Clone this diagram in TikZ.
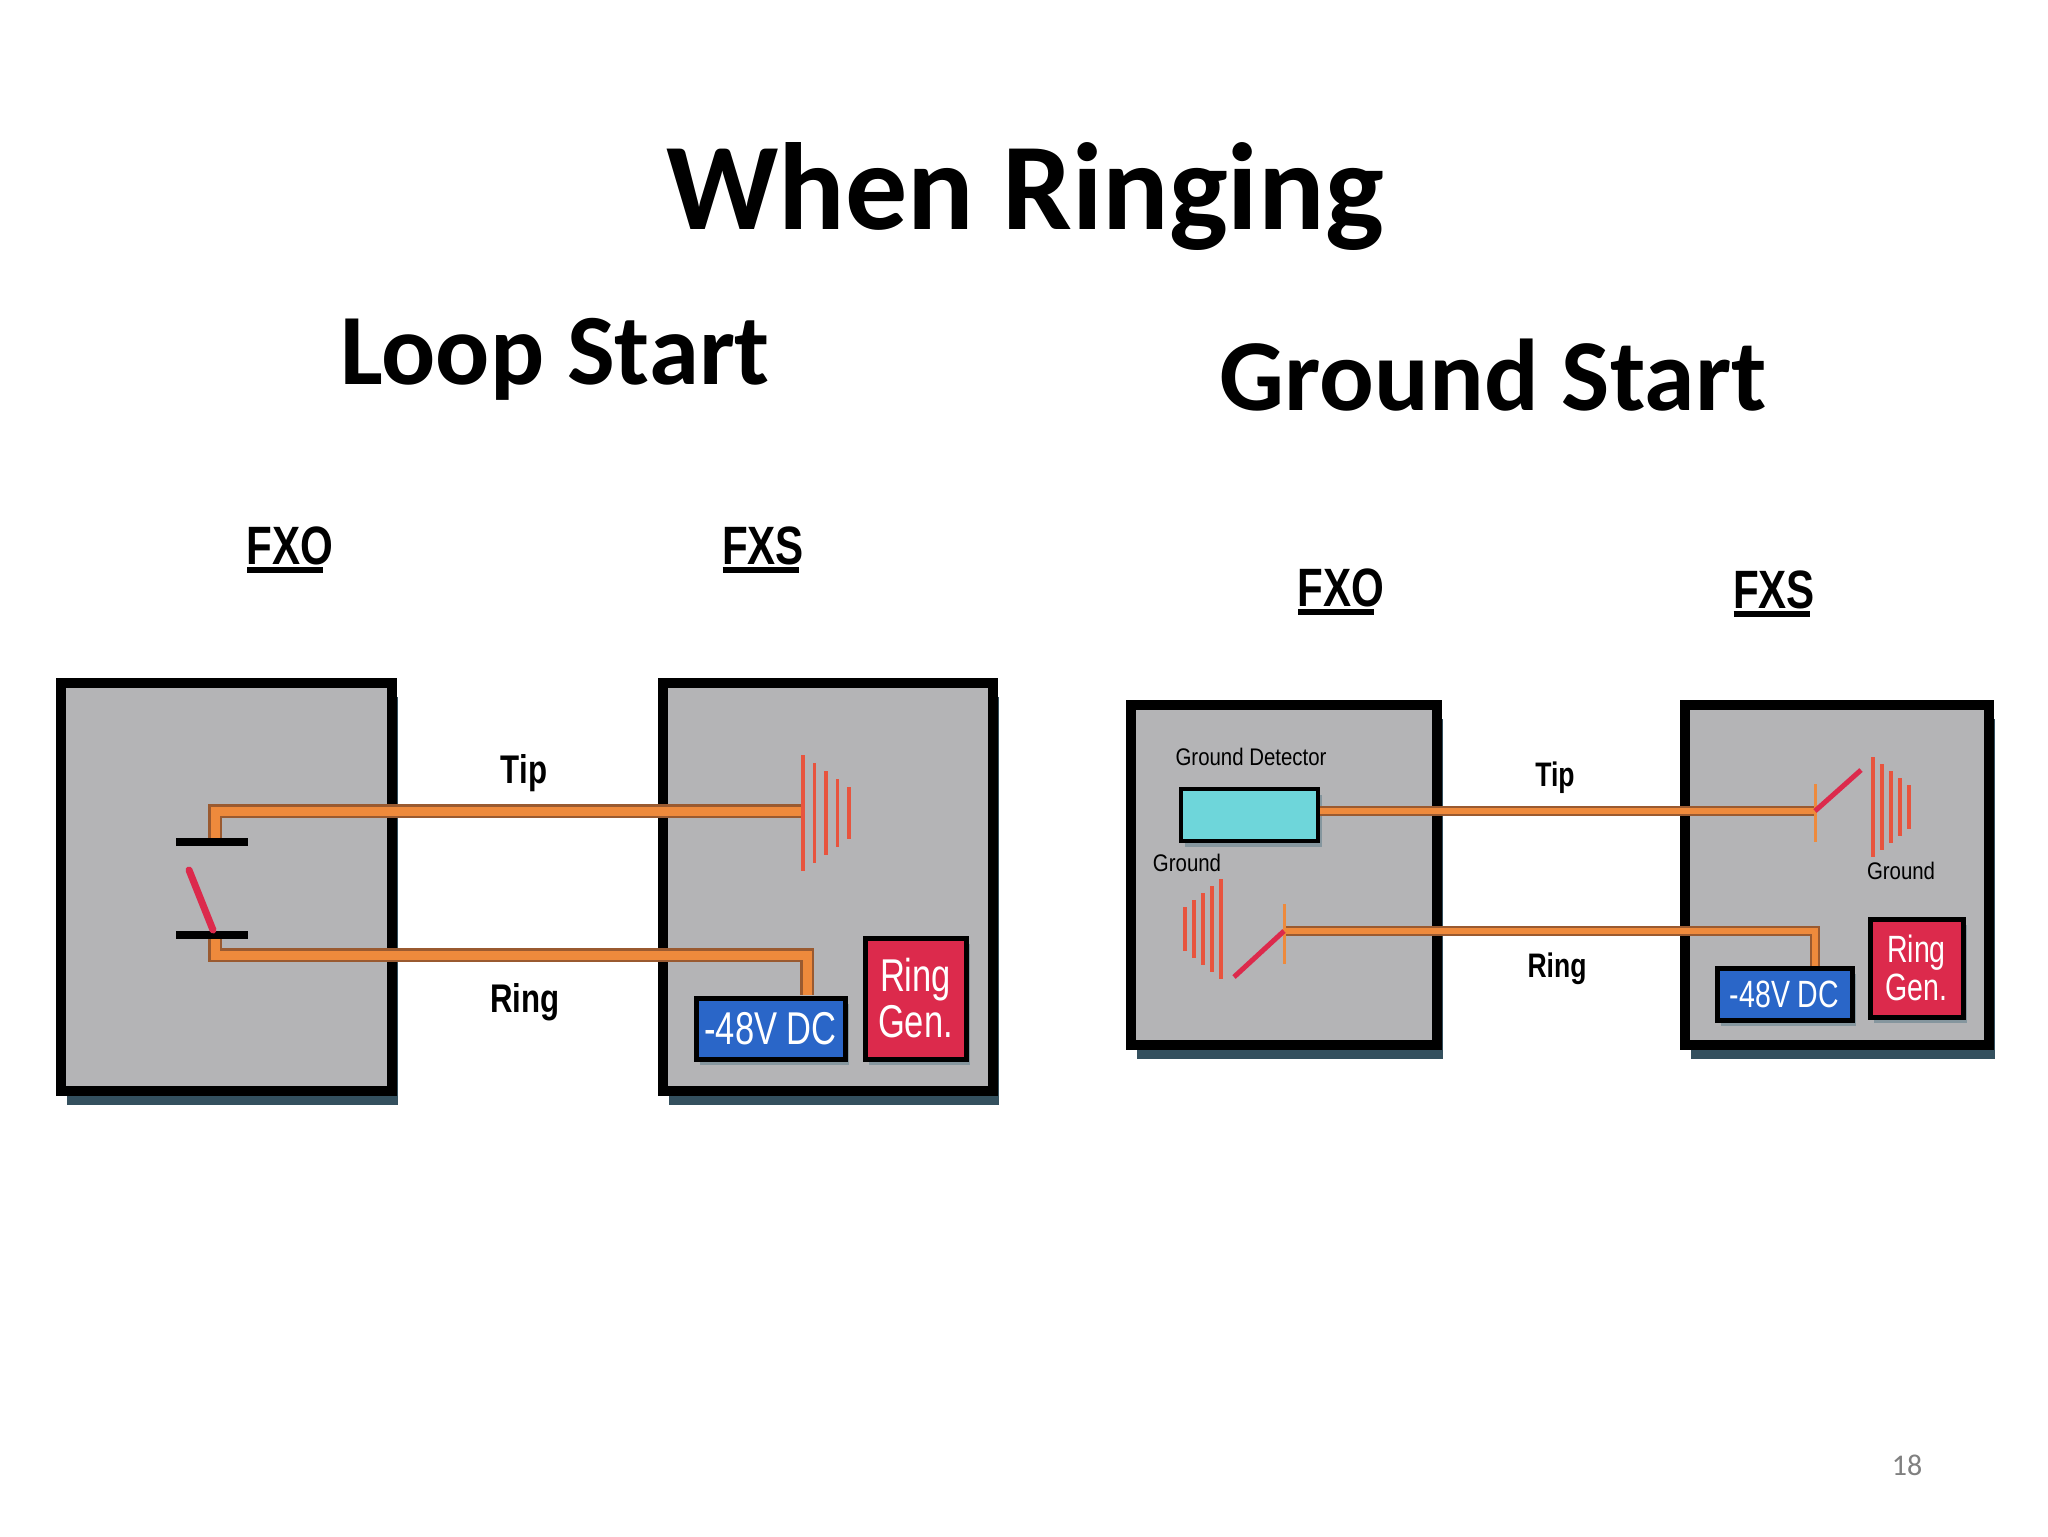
\documentclass[tikz,border=0pt]{standalone}
\usepackage{fontspec}
\setmainfont{Carlito}
\newfontfamily\arialf{Liberation Sans}
\usetikzlibrary{fit,shadows}
\definecolor{boxg}{HTML}{B4B4B6}
\definecolor{shc}{HTML}{34505E}
\definecolor{wirec}{HTML}{EE8A3C}
\definecolor{wired}{HTML}{9A5A30}
\definecolor{bellc}{HTML}{E8543E}
\definecolor{bluec}{HTML}{2A66C8}
\definecolor{redc}{HTML}{DC2A4C}
\definecolor{cyanc}{HTML}{6ED6DA}
\begin{document}
\begin{tikzpicture}[x=0.5pt,y=-0.5pt,
  box/.style={draw=black,line width=5pt,fill=boxg,inner sep=0pt,
    drop shadow={shadow xshift=3pt,shadow yshift=-7pt,fill=shc,opacity=1}},
  sbox/.style={draw=black,line width=2.5pt,inner sep=0pt,
    drop shadow={shadow xshift=2pt,shadow yshift=-3pt,fill=shc!60,opacity=1}},
  wireL/.style={draw=wired,line width=7pt},
  wireLi/.style={draw=wirec,line width=4.5pt},
  bellline/.style={draw=bellc,line width=1.8pt},
  lbl/.style={font=\arialf\bfseries\fontsize{27}{27}\selectfont,xscale=0.78},
  sm/.style={font=\arialf\fontsize{12}{12}\selectfont,xscale=0.85},
  inbox/.style={text=white,font=\arialf\fontsize{23}{23}\selectfont,xscale=0.75,align=center}]
\useasboundingbox (0,0) rectangle (2048,1536);
\fill[white] (0,0) rectangle (2048,1536);
% titles
\node[font=\bfseries\fontsize{62}{62}\selectfont] (title) at (1025,196) {When Ringing};
\node[font=\bfseries\fontsize{50.5}{50.5}\selectfont] (loop) at (555,359) {Loop Start};
\node[font=\bfseries\fontsize{51}{51}\selectfont] (gnd) at (1493,375) {Ground Start};
\node[text=gray,font=\fontsize{15}{15}\selectfont] (pg) at (1907,1465) {18};
% ---------- Loop start ----------
\node[box,fit={(61,683)(392,1091)}] (lfxo) {};
\node[box,fit={(663,683)(993,1091)}] (lfxs) {};
\node[lbl] (lfxol) at (290,546) {FXO};
\node[lbl] (lfxsl) at (763,546) {FXS};
\draw[line width=3pt] (lfxol.south west)++(6,-2) -- ++(76,0);
\draw[line width=3pt] (lfxsl.south west)++(6,-2) -- ++(76,0);
\coordinate (lt0) at (215,842);
\coordinate (lt1) at (803,811);
\coordinate (lr0) at (215,935);
\coordinate (lrm) at (215,955);
\coordinate (lr1) at (807,995);
\foreach \w in {wireL,wireLi} {
  \draw[\w] (lt0) |- (lt1);
  \draw[\w] (lr0) -- (lrm) -| (lr1);
}
\draw[line width=4pt] (176,842) -- (248,842);
\draw[line width=4pt] (176,935) -- (248,935);
\draw[draw=redc,line width=3.5pt,line cap=round] (189,870) -- (213,930);
\foreach \i/\h in {0/58,1/50,2/42,3/34,4/26}
  \draw[bellline] (803+\i*11.5,813-\h) -- (803+\i*11.5,813+\h);
\node[lbl,font=\arialf\bfseries\fontsize{20}{20}\selectfont] (ltip) at (524,773) {Tip};
\node[lbl,font=\arialf\bfseries\fontsize{20}{20}\selectfont] (lring) at (525,1002) {Ring};
\node[sbox,fill=bluec,fit={(696,998)(845,1059)}] (ldc) {};
\node[inbox] at (ldc) {-48V DC};
\node[sbox,fill=redc,fit={(865,938)(966,1059)}] (lrg) {};
\node[inbox] at (lrg) {Ring\\Gen.};
% ---------- Ground start ----------
\node[box,fit={(1131,705)(1437,1045)}] (rfxo) {};
\node[box,fit={(1685,705)(1989,1045)}] (rfxs) {};
\node[lbl] (rfxol) at (1341,588) {FXO};
\node[lbl] (rfxsl) at (1774,590) {FXS};
\draw[line width=3pt] (rfxol.south west)++(6,-2) -- ++(76,0);
\draw[line width=3pt] (rfxsl.south west)++(6,-2) -- ++(76,0);
\node[sm] (gdl) at (1251,757) {Ground Detector};
\node[sbox,line width=2pt,fill=cyanc,fit={(1181,789)(1318,841)}] (gdet) {};
\coordinate (rt1) at (1815,811);
\coordinate (rr0) at (1284,931);
\coordinate (rr1) at (1815,966);
\draw[draw=wired,line width=5pt] (gdet.east|-rt1) -- (rt1);
\draw[draw=wirec,line width=3pt] (gdet.east|-rt1) -- (rt1);
\draw[draw=wired,line width=5pt] (rr0) -| (rr1);
\draw[draw=wirec,line width=3pt] (rr0) -| (rr1);
\draw[draw=wirec,line width=1.5pt] (1815,784) -- (1815,842);
\draw[draw=wirec,line width=1.5pt] (1284,904) -- (1284,964);
\draw[draw=redc,line width=2.5pt] (rt1) -- (1861,770);
\draw[draw=redc,line width=2.5pt] (rr0) -- (1234,977);
\foreach \i/\h in {0/50,1/43,2/36,3/29,4/22}
  \draw[bellline] (1873+\i*9,807-\h) -- (1873+\i*9,807+\h);
\foreach \i/\h in {0/50,1/43,2/36,3/29,4/22}
  \draw[bellline] (1221-\i*9,929-\h) -- (1221-\i*9,929+\h);
\node[sm] (rgl) at (1187,863) {Ground};
\node[sm] (rgr) at (1901,871) {Ground};
\node[lbl,font=\arialf\bfseries\fontsize{17}{17}\selectfont] (rtip) at (1555,778) {Tip};
\node[lbl,font=\arialf\bfseries\fontsize{17}{17}\selectfont] (rring) at (1557,969) {Ring};
\node[sbox,fill=bluec,fit={(1717,968)(1852,1020)}] (rdc) {};
\node[inbox,font=\arialf\fontsize{19}{19}\selectfont] at (rdc) {-48V DC};
\node[sbox,fill=redc,fit={(1870,919)(1963,1017)}] (rrg) {};
\node[inbox,font=\arialf\fontsize{19}{19}\selectfont] at (rrg) {Ring\\Gen.};
\end{tikzpicture}
\end{document}
